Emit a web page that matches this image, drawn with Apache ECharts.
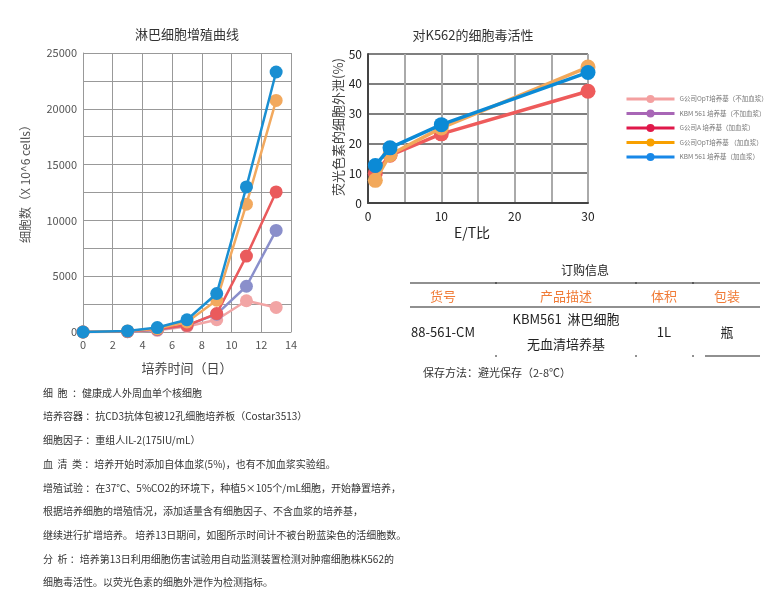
<!DOCTYPE html>
<html><head><meta charset="utf-8">
<script src="https://cdn.jsdelivr.net/npm/echarts@6/dist/echarts.min.js"></script>
<style>html,body{margin:0;padding:0;background:#fff}#c{width:779px;height:615px}</style>
</head><body><div id="c"></div>
<script>
// ---- data ----
const seriesNames = [
  'G公司OpT培养基（不加血浆）',
  'KBM 561 培养基（不加血浆）',
  'G公司A 培养基（加血浆）',
  'G公司OpT培养基 （加血浆）',
  'KBM 561 培养基（加血浆）'
];
const days = [0, 3, 5, 7, 9, 11, 13];
const growthGOpTNoPlasma = [0, 20, 150, 500, 1100, 2800, 2200];
const growthKBMNoPlasma  = [0, 30, 200, 600, 1600, 4100, 9100];
const growthGAPlasma     = [0, 50, 250, 600, 1650, 6800, 12550];
const growthGOpTPlasma   = [0, 80, 300, 900, 2850, 11450, 20750];
const growthKBMPlasma    = [0, 100, 400, 1100, 3450, 13000, 23300];
const etRatio = [1, 3, 10, 30];
const cytoGAPlasma   = [10, 16, 23.2, 37.5];
const cytoGOpTPlasma = [7.6, 16.2, 25.2, 45.6];
const cytoKBMPlasma  = [12.6, 18.5, 26.3, 43.8];
const infoLines = [
  '细  胞  ：健康成人外周血单个核细胞',
  '培养容器 ：抗CD3抗体包被12孔细胞培养板（Costar3513）',
  '细胞因子 ：重组人IL-2(175IU/mL）',
  '血  清  类 ：培养开始时添加自体血浆(5%)，也有不加血浆实验组。',
  '增殖试验 ：在37℃、5%CO2的环境下，种植5×105个/mL细胞，开始静置培养，',
  '根据培养细胞的增殖情况，添加适量含有细胞因子、不含血浆的培养基，',
  '继续进行扩增培养。 培养13日期间，如图所示时间计不被台盼蓝染色的活细胞数。',
  '分  析 ：培养第13日利用细胞伤害试验用自动监测装置检测对肿瘤细胞株K562的',
  '细胞毒活性。以荧光色素的细胞外泄作为检测指标。'
];
const tableHeaders = ['货号', '产品描述', '体积', '包装'];
const tableRow = ['88-561-CM', 'KBM561  淋巴细胞', '1L', '瓶'];
const tableRow2 = '无血清培养基';

// ---- styles ----
const FONT = '"Noto Sans CJK SC", "Noto Sans", sans-serif';
const leftColors = ['#f2a5a5', '#8a8fcb', '#ea5a5c', '#f2a95e', '#1a8fd2'];
const legendColors = ['#f4a0a0', '#a866b6', '#e0184a', '#f8a000', '#1888e8'];
const rightColors = {2: '#ee5b5b', 3: '#f2a85a', 4: '#0b8ad6'};

const pair = (xs, ys) => xs.map((x, i) => [x, ys[i]]);
const growthData = [growthGOpTNoPlasma, growthKBMNoPlasma, growthGAPlasma, growthGOpTPlasma, growthKBMPlasma];
const cytoData = {2: cytoGAPlasma, 3: cytoGOpTPlasma, 4: cytoKBMPlasma};

const series = [];
growthData.forEach((d, i) => {
  series.push({
    name: seriesNames[i], type: 'line', xAxisIndex: 0, yAxisIndex: 0,
    data: pair(days, d), symbol: 'circle', symbolSize: 13,
    lineStyle: {width: 2.5, color: leftColors[i]},
    itemStyle: {color: leftColors[i]}, z: 2 + i, animation: false
  });
});
[2, 3, 4].forEach((i) => {
  series.push({
    name: seriesNames[i], type: 'line', xAxisIndex: 1, yAxisIndex: 1,
    data: pair(etRatio, cytoData[i]), symbol: 'circle', symbolSize: 15,
    lineStyle: {width: 3.5, color: rightColors[i]},
    itemStyle: {color: rightColors[i]}, z: 2 + i, animation: false
  });
});

const graphics = [];
function txt(x, y, s, opt) {
  graphics.push({type: 'text', x: x, y: y, rotation: opt.rotation || 0,
    style: Object.assign({text: s, fontFamily: FONT, fontSize: 12, fill: '#333',
      textAlign: 'center', textVerticalAlign: 'middle'}, opt.style || {})});
}
function line(x1, y1, x2, y2, w, c) {
  graphics.push({type: 'line', shape: {x1, y1, x2, y2}, style: {stroke: c || '#222', lineWidth: w || 1}});
}
// chart titles / axis names
txt(187, 34, '淋巴细胞增殖曲线', {style: {fontSize: 13, fill: '#333'}});
txt(473, 35, '对K562的细胞毒活性', {style: {fontSize: 13, fill: '#333'}});
txt(25, 181, '细胞数（X 10^6 cells）', {rotation: Math.PI / 2, style: {fontSize: 12, fill: '#555'}});
txt(187, 368, '培养时间（日）', {style: {fontSize: 13, fill: '#444'}});
txt(338, 127, '荧光色素的细胞外泄(%)', {rotation: Math.PI / 2, style: {fontSize: 13, fill: '#444'}});
txt(472, 233, 'E/T比', {style: {fontSize: 14, fill: '#222'}});
// order table
txt(585, 270, '订购信息', {style: {fontSize: 12, fill: '#222'}});
line(410, 283, 760, 283, 1.2);
line(410, 307, 760, 307, 1.2);
line(705, 356, 760, 356, 1.2);
[496, 636, 693].forEach(x => { line(x, 282, x, 284, 1); line(x, 355, x, 357, 1); });
const colX = [443, 566, 664, 727];
tableHeaders.forEach((h, i) => txt(colX[i], 296, h, {style: {fontSize: 13, fill: '#f07a35'}}));
txt(colX[0], 332, tableRow[0], {style: {fontSize: 13, fill: '#222'}});
txt(colX[1], 319, tableRow[1], {style: {fontSize: 13, fill: '#222'}});
txt(colX[1], 344, tableRow2, {style: {fontSize: 13, fill: '#222'}});
txt(colX[2], 332, tableRow[2], {style: {fontSize: 13, fill: '#222'}});
txt(colX[3], 332, tableRow[3], {style: {fontSize: 13, fill: '#222'}});
txt(423, 373, '保存方法：避光保存（2-8℃）', {style: {fontSize: 11, fill: '#333', textAlign: 'left'}});
// description text
infoLines.forEach((s, i) => txt(43, 393 + i * 23.7, s, {style: {fontSize: 10, fill: '#333', textAlign: 'left'}}));

const chart = echarts.init(document.getElementById('c'), null, {renderer: 'canvas'});
chart.setOption({
  animation: false,
  backgroundColor: '#fff',
  textStyle: {fontFamily: FONT},
  grid: [
    {left: 83, top: 53, width: 208, height: 279},
    {left: 368, top: 54, width: 220, height: 149}
  ],
  xAxis: [
    {gridIndex: 0, type: 'value', min: 0, max: 14, interval: 2,
     axisLine: {show: true, lineStyle: {color: '#999'}}, axisTick: {show: false},
     axisLabel: {color: '#555', fontSize: 11, margin: 7},
     splitLine: {show: true, lineStyle: {color: '#999', width: 1}}},
    {gridIndex: 1, type: 'value', min: 0, max: 30, interval: 5,
     axisLine: {show: true, lineStyle: {color: '#444', width: 2}}, axisTick: {show: false},
     axisLabel: {color: '#222', fontSize: 12, margin: 7, formatter: v => (v % 10 === 0 ? String(v) : '')},
     splitLine: {show: true, lineStyle: {color: '#aaa', width: 2}}}
  ],
  yAxis: [
    {gridIndex: 0, type: 'value', min: 0, max: 25000, interval: 2500,
     axisLine: {show: true, lineStyle: {color: '#999'}}, axisTick: {show: false},
     axisLabel: {color: '#555', fontSize: 11, margin: 6, formatter: v => (v % 5000 === 0 ? String(v) : '')},
     splitLine: {show: true, lineStyle: {color: '#999', width: 1}}},
    {gridIndex: 1, type: 'value', min: 0, max: 50, interval: 10,
     axisLine: {show: true, lineStyle: {color: '#444', width: 2}}, axisTick: {show: false},
     axisLabel: {color: '#222', fontSize: 12, margin: 6},
     splitLine: {show: true, lineStyle: {color: '#555', width: 1.5}}}
  ],
  legend: {
    orient: 'vertical', left: 625, top: 95, itemWidth: 48, itemHeight: 10, itemGap: 6.5,
    padding: 0,
    textStyle: {fontSize: 6.5, color: '#777'},
    data: seriesNames.map((n, i) => ({name: n,
      itemStyle: {color: legendColors[i]}, lineStyle: {color: legendColors[i], width: 3}}))
  },
  series: series,
  graphic: graphics
});
</script></body></html>
